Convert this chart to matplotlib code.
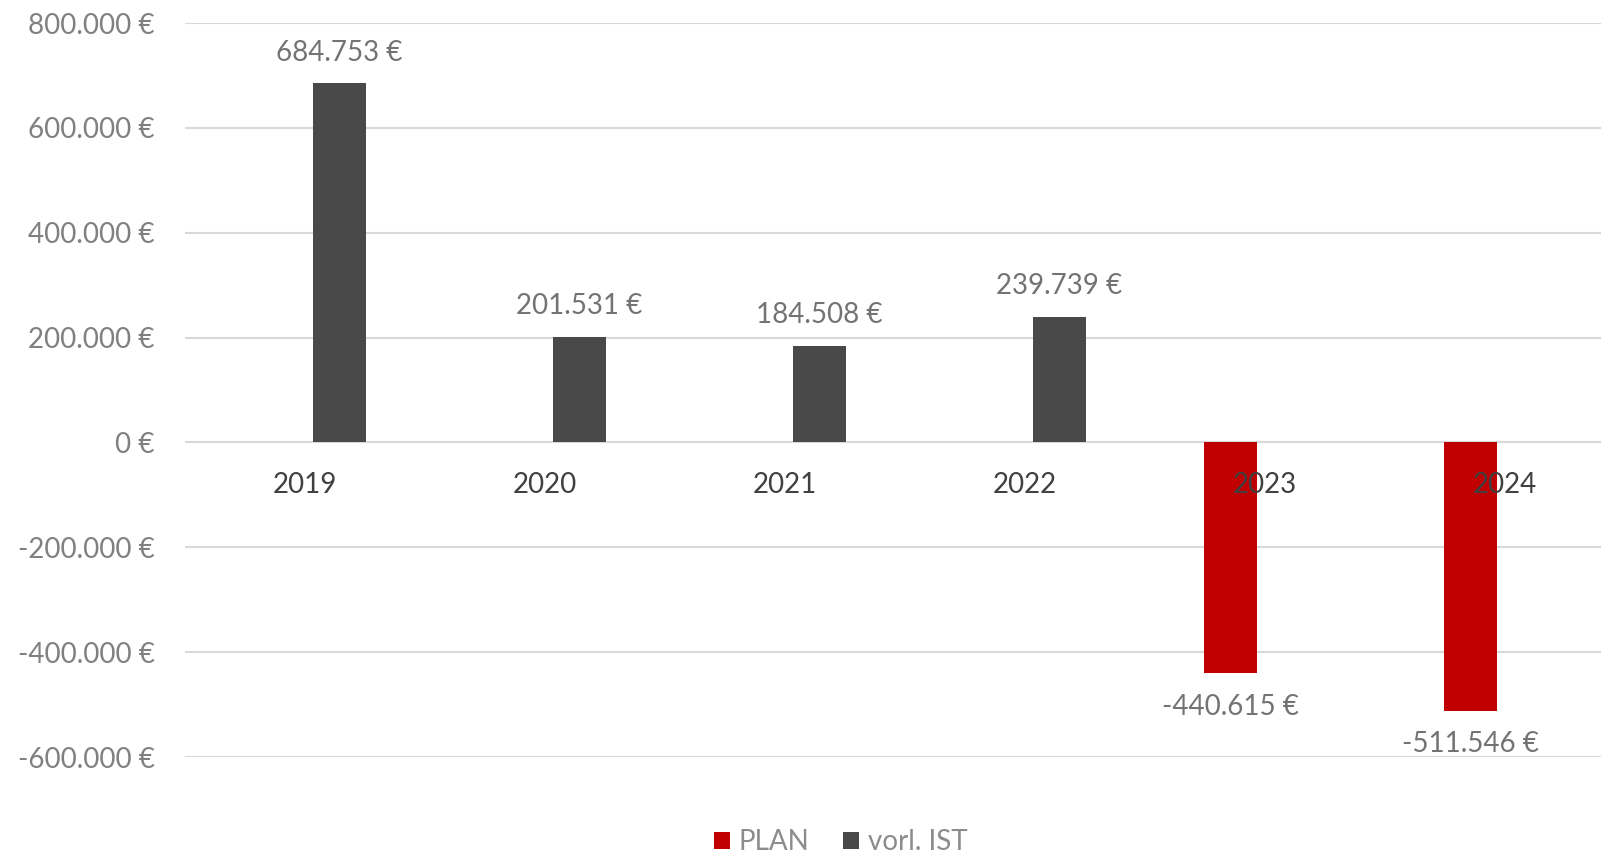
import numpy as np
import matplotlib.pyplot as plt

plt.rcParams['font.family'] = ['Lato', 'DejaVu Sans']

# Data
years = ['2019', '2020', '2021', '2022', '2023', '2024']
plan = [np.nan, np.nan, np.nan, np.nan, -440615, -511546]
vorl_ist = [684753, 201531, 184508, 239739, np.nan, np.nan]
y_ticks = [-600000, -400000, -200000, 0, 200000, 400000, 600000, 800000]

red = '#C00000'
dark = '#494949'
grid_col = '#d9d9d9'


def euro(v):
    return f"{v:,.0f}".replace(",", ".") + " €"


fig = plt.figure(figsize=(16.01, 8.56), dpi=100)
# plot area runs past the right edge like the cropped original
ax = fig.add_axes([185 / 1601, 99 / 856, 1440 / 1601, 734 / 856])

x = np.arange(len(years))
w = 0.221
off = 0.143
b_plan = ax.bar(x - off, plan, width=w, color=red, label='PLAN', zorder=3)
b_ist = ax.bar(x + off, vorl_ist, width=w, color=dark, label='vorl. IST', zorder=3)

ax.set_xlim(-0.5, len(years) - 0.5)
ax.set_ylim(-600000, 800000)
ax.set_yticks(y_ticks)
ax.set_yticklabels([euro(v) for v in y_ticks])
ax.yaxis.grid(True, color=grid_col, linewidth=1.5, zorder=0)
ax.set_axisbelow(True)

# category labels sit at the zero line, drawn over the bars
ax.spines['bottom'].set_position(('data', 0))
for s in ax.spines.values():
    s.set_visible(False)
ax.set_xticks(x)
ax.set_xticklabels(years)
ax.xaxis.set_zorder(5)
ax.tick_params(axis='x', length=0, pad=21.5, labelsize=20, labelcolor='#404040')
ax.tick_params(axis='y', length=0, pad=22, labelsize=20, labelcolor='#808080')

# data labels
for bars, vals in ((b_plan, plan), (b_ist, vorl_ist)):
    for rect, v in zip(bars, vals):
        if np.isnan(v):
            continue
        dy = 22 if v > 0 else -24
        ax.annotate(euro(v), (rect.get_x() + rect.get_width() / 2, v),
                    xytext=(0, dy), textcoords='offset points',
                    ha='center', va='center', fontsize=20, color='#737373')

fig.legend(handles=[b_plan, b_ist], loc='center', bbox_to_anchor=(0.525, 0.016),
           ncol=2, frameon=False, fontsize=20, labelcolor='#8c8c8c',
           handlelength=0.6, handleheight=0.6, handletextpad=0.3, columnspacing=1.2)

fig.savefig('out.png', dpi=100)
